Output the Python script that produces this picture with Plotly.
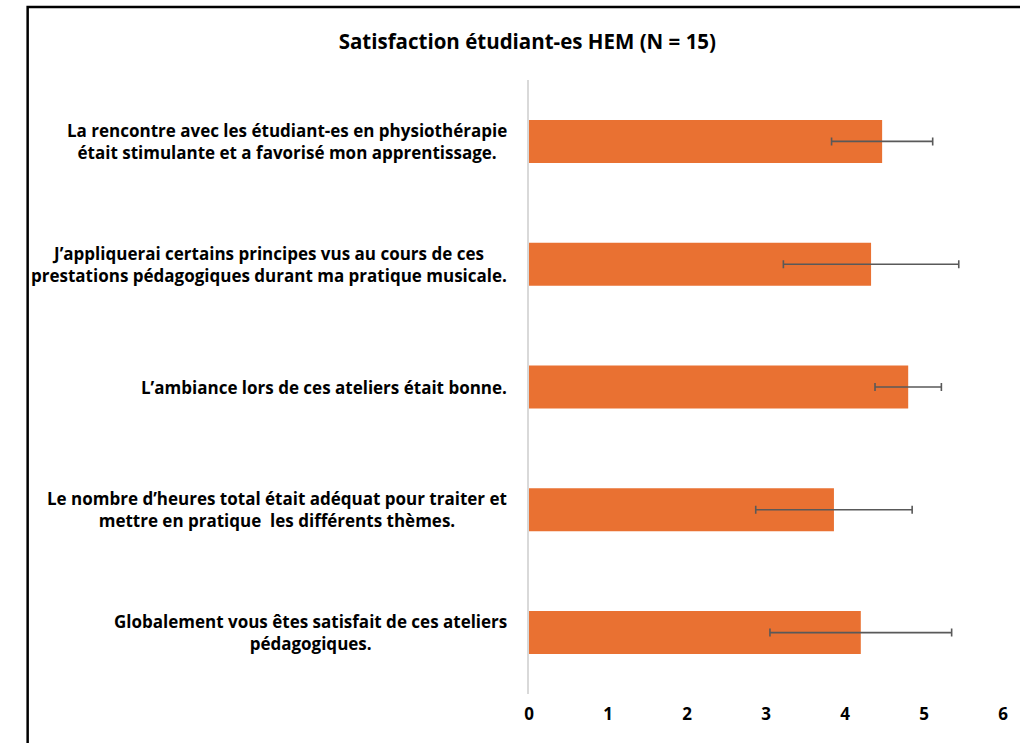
import plotly.graph_objects as go

questions = [
    "La rencontre avec les étudiant-es en physiothérapie<br>était stimulante et a favorisé mon apprentissage.",
    "J’appliquerai certains principes vus au cours de ces<br>prestations pédagogiques durant ma pratique musicale.",
    "L’ambiance lors de ces ateliers était bonne.",
    "Le nombre d’heures total était adéquat pour traiter et<br>mettre en pratique  les différents thèmes.",
    "Globalement vous êtes satisfait de ces ateliers<br>pédagogiques.",
]
means = [4.47, 4.33, 4.80, 3.86, 4.20]
std_devs = [0.64, 1.11, 0.42, 0.99, 1.15]
x_ticks = [0, 1, 2, 3, 4, 5, 6]

FONT = "Open Sans, Roboto, sans-serif"
ORANGE = "#E97132"

fig = go.Figure()
fig.add_trace(go.Bar(
    y=questions, x=means, orientation="h",
    marker=dict(color=ORANGE, line=dict(width=0)),
    error_x=dict(type="data", array=std_devs, visible=True, color="#595959", thickness=1.6, width=4),
    hoverinfo="x",
))

# category labels as centred multi-line annotations
for q in questions:
    fig.add_annotation(
        x=0, xref="paper", y=q, yref="y", text=q, showarrow=False,
        xanchor="right", align="center", xshift=-20,
        font=dict(family=FONT, size=17, color="black", weight="bold"),
    )

# outer frame (only left and top sides fall inside the picture)
fig.add_shape(type="rect", xref="paper", yref="paper", x0=-1.0577, x1=1.2, y0=-0.3, y1=1.1189,
              line=dict(color="black", width=2.5), fillcolor="rgba(0,0,0,0)", layer="above")

fig.update_layout(
    width=1020, height=743,
    margin=dict(l=529, r=14, t=80, b=49),
    paper_bgcolor="white", plot_bgcolor="white",
    bargap=0.65, showlegend=False,
    title=dict(text="Satisfaction étudiant-es HEM (N = 15)", x=0.517, xanchor="center", y=0.944, yanchor="middle",
               font=dict(family=FONT, size=20.5, color="black", weight="bold")),
    xaxis=dict(range=[0, 6], tickvals=x_ticks, showgrid=False, zeroline=False, showline=False,
               ticks="", ticklabelstandoff=8,
               tickfont=dict(family=FONT, size=17, color="black", weight="bold")),
    yaxis=dict(autorange="reversed", showticklabels=False, showgrid=False, zeroline=False,
               showline=True, linecolor="#d9d9d9", linewidth=1.5, ticks=""),
)

# drop the default page margin so the figure sits at the window's top-left corner
fig.write_html("out.html", config={"displayModeBar": False},
               post_script="document.body.style.margin='0';document.body.style.overflow='hidden';")
